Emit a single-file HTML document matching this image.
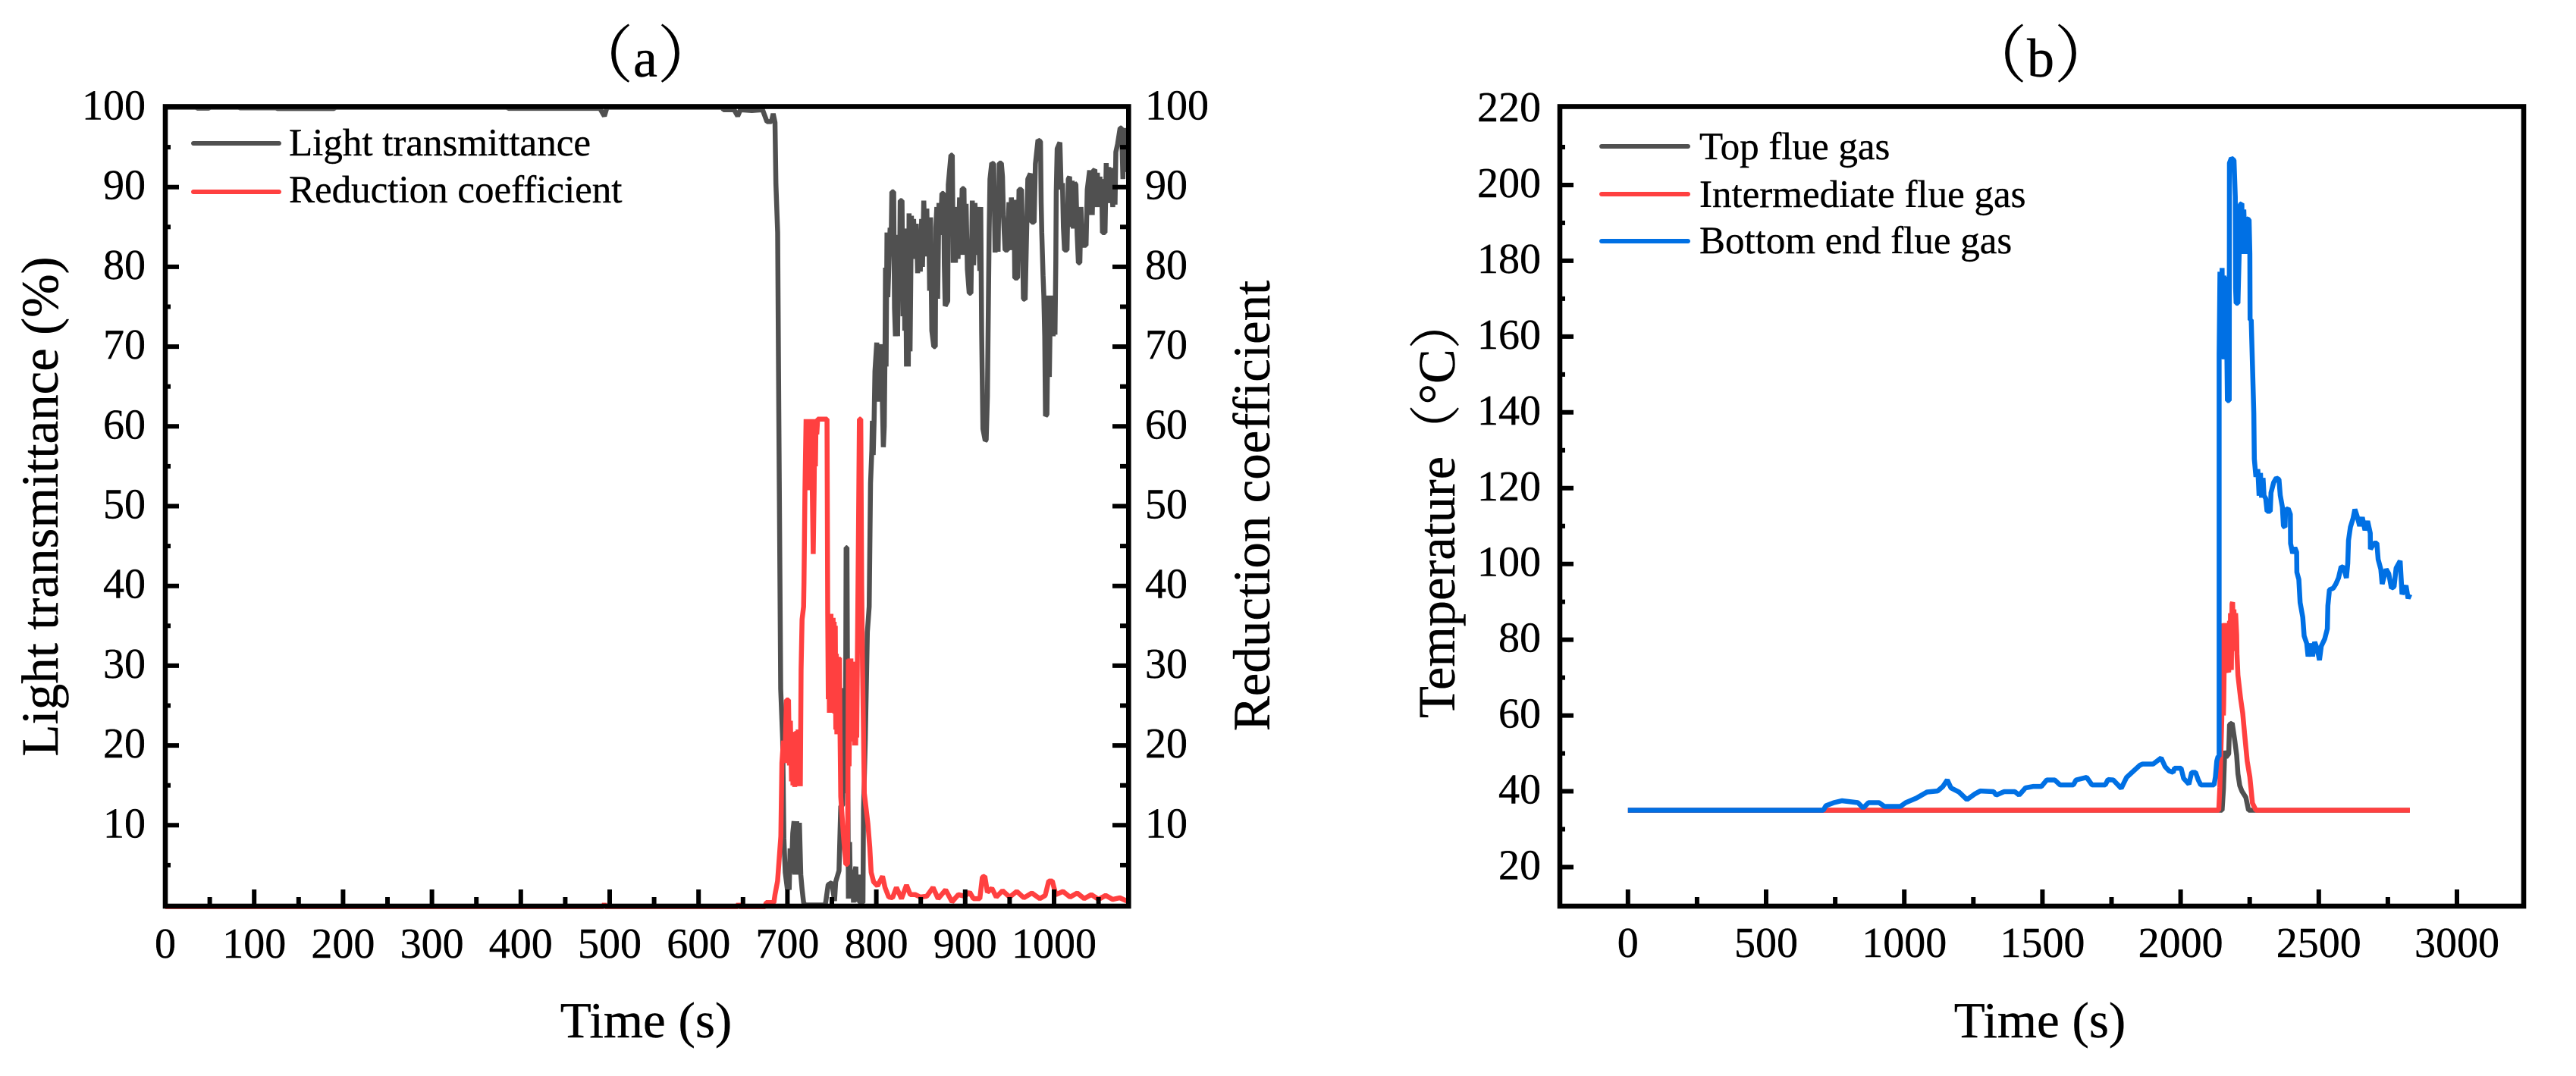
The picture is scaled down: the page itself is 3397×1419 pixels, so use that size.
<!DOCTYPE html>
<html lang="en">
<head>
<meta charset="utf-8">
<title>Light transmittance and flue gas temperature charts</title>
<style>
html,body{margin:0;padding:0;background:#fff;}
svg{display:block;}
text{font-family:"Liberation Serif","Noto Serif CJK SC",serif;fill:#000;font-variant-ligatures:none;stroke:#000;stroke-width:0.4px;}
.tick{font-size:56px;}
.leg{font-size:51px;}
.axt{font-size:68px;}
</style>
</head>
<body>
<svg id="fig" xmlns="http://www.w3.org/2000/svg" width="3397" height="1419" viewBox="0 0 3397 1419">
  <rect x="0" y="0" width="3397" height="1419" fill="#fff"/>
  <g id="panelA"></g>
  <g id="panelB"></g>

  <text x="851" y="101" font-size="82" text-anchor="middle">（<tspan font-size="72">a</tspan>）</text>
  <text x="2691" y="101" font-size="82" text-anchor="middle">（<tspan font-size="72">b</tspan>）</text>

  <text class="axt" text-anchor="middle" transform="translate(76,668) rotate(-90)" style="font-size:69px">Light transmittance (%)</text>
  <text class="axt" text-anchor="middle" transform="translate(1674,667) rotate(-90)" style="font-size:69px">Reduction coefficient</text>
  <text class="axt" x="852" y="1368" text-anchor="middle" style="font-size:67px">Time (s)</text>
  <text class="axt" transform="translate(1918,947) rotate(-90)" style="font-size:68.5px">Temperature（°C）</text>
  <text class="axt" x="2690" y="1368" text-anchor="middle" style="font-size:67px">Time (s)</text>

  <g>
    <line x1="255" y1="189" x2="368" y2="189" stroke="#505050" stroke-width="6" stroke-linecap="round"/>
    <text class="leg" x="381" y="205">Light transmittance</text>
    <line x1="255" y1="253" x2="368" y2="253" stroke="#FF4040" stroke-width="6" stroke-linecap="round"/>
    <text class="leg" x="381" y="267">Reduction coefficient</text>
  </g>
  <g>
    <line x1="2112" y1="193" x2="2226" y2="193" stroke="#505050" stroke-width="6" stroke-linecap="round"/>
    <text class="leg" x="2241" y="210">Top flue gas</text>
    <line x1="2112" y1="256" x2="2226" y2="256" stroke="#FF4040" stroke-width="6" stroke-linecap="round"/>
    <text class="leg" x="2241" y="273">Intermediate flue gas</text>
    <line x1="2112" y1="318" x2="2226" y2="318" stroke="#0070E4" stroke-width="6" stroke-linecap="round"/>
    <text class="leg" x="2241" y="334">Bottom end flue gas</text>
  </g>
</svg>
<script>
// Panel (a) tick values
const aXMajor = [0,100,200,300,400,500,600,700,800,900,1000];
const aXMinor = [50,150,250,350,450,550,650,750,850,950,1050];
const aYMajor = [10,20,30,40,50,60,70,80,90];
const aYMinor = [5,15,25,35,45,55,65,75,85,95];
const aYLabels = [10,20,30,40,50,60,70,80,90,100];

// Panel (b) tick values
const bXMajor = [0,500,1000,1500,2000,2500,3000];
const bXMinor = [250,750,1250,1750,2250,2750];
const bYMajor = [20,40,60,80,100,120,140,160,180,200];
const bYMinor = [30,50,70,90,110,130,150,170,190,210];
const bYLabels = [20,40,60,80,100,120,140,160,180,200,220];

// Panel (a) series: [time s, value]
const lightTransmittance = [[0,100],[35,100],[36,99.9],[49,99.9],[50,100],[83,100],[84,99.93],[125,99.93],[126,99.85],[190,99.85],[191,100],[385,100],[386,99.87],[489,99.87],[494,98.9],[497,100],[627,100],[628,99.7],[640,99.7],[644,98.9],[647,99.7],[660,99.6],[672,99.7],[677,98.2],[682,98.2],[684,99.2],[686,98.1],[687,90.4],[689,84.3],[690.3,61.8],[692.4,27.1],[694.6,20.8],[696,8.4],[697.5,4.1],[700,1.9],[701.5,4.5],[702,1.9],[703,7.1],[704.5,4],[706,9],[707.4,10.5],[708.2,3.8],[709,10.5],[709.8,3.8],[710.5,10.5],[711.2,3.8],[712,10.3],[712.8,3.8],[713.5,10.3],[715,3.8],[716.5,2],[718.2,0.3],[720,0],[742,0],[743,0.3],[745.8,2.55],[750,2.8],[753,0.5],[754.3,2.9],[758,4.3],[760,12.4],[762,12.5],[763.5,27.2],[764.5,17.8],[765.2,14],[766,44.8],[767,44.8],[768.6,0.8],[770,7.9],[771,1],[771.6,4.4],[772.8,1],[773.6,4],[774.3,0.3],[775.5,4],[777,4.8],[778,0.4],[780,3.8],[781.4,0.3],[785,0.3],[785.6,12],[787.6,20.8],[789.9,34.2],[792,37.4],[793.5,52.9],[795,57],[795.6,60.7],[796.5,56.4],[797.5,60.7],[798.5,66.9],[800.5,70.5],[801.5,63.1],[802.7,70.3],[803.5,63.1],[804.2,70],[805.2,63.1],[806,70.3],[806.8,63],[807.9,57.4],[809,60],[809.8,69.4],[810.3,79.9],[811,67.5],[812,84.3],[813,76.2],[815.5,84.9],[816.5,81.5],[817.5,89.4],[819.5,89.4],[820.5,74.8],[821.5,71.3],[823,82.9],[824,71.3],[825,84],[826,76.7],[826.9,88.3],[828.9,88.3],[830,73.8],[831.2,84.8],[832,72],[833,82.6],[834,67.5],[835,80],[836,67.5],[836.9,86.7],[838,69.4],[839.5,86.4],[840.5,81],[842,86],[843.5,81],[845,85.4],[846.5,79.2],[848,84.5],[849.5,79.4],[851,86],[852,80],[853.4,88.3],[855,81.3],[856.8,87.3],[857.8,81.3],[859,86.2],[860,77],[861,86.2],[862.5,72],[864.7,70],[866.4,70],[867,84.9],[868.1,87.5],[869,76],[870.5,88],[872,84],[873.8,89.2],[875.8,89.2],[876.5,80.2],[877.5,75.1],[880.4,75.7],[881,90.3],[884,94],[885.5,94],[886.5,80.5],[888,87.5],[889,80.5],[890.5,87.5],[892,81],[893.7,88.7],[895,81.5],[896.6,89.8],[898.6,89.8],[899.5,81.5],[901,87.9],[902.5,79.7],[904.5,76.7],[906.5,76.7],[908,88.3],[909.5,80.2],[911,88],[913,81.5],[914.5,87.5],[916.5,79.5],[917.5,87.5],[918.5,71.8],[920,59.7],[922.5,58.2],[923.6,58.3],[925,63.7],[927,84.3],[927.9,91],[929.9,93],[932.1,92.9],[933.6,81.8],[935,89.7],[937,81.9],[938.4,93],[940.7,93],[942,91.3],[943,86.5],[944.9,82.1],[947.8,82.1],[949.2,88.1],[950.6,82.1],[952,88.7],[953.5,85],[954.9,88.4],[955.8,78.6],[959,78.6],[960.6,89.7],[963.4,89.7],[964.5,83],[965.5,76],[967.5,75.9],[969.1,84.3],[970.5,91],[973.4,91.7],[974.8,85.6],[977.6,85.6],[979,92.9],[981.9,95.9],[984.7,95.7],[985.5,88],[986.2,84.3],[987.6,78.9],[988.5,76.4],[989.5,71.3],[990.4,61.3],[992,61.5],[993,71],[994,76.4],[994.7,66.2],[996,76.4],[997,71.3],[998,76.4],[999,71.3],[1000,76.4],[1001,71.5],[1002,80.5],[1002.5,89.4],[1003.5,94.8],[1006.6,95.6],[1008,89.7],[1009.5,90.5],[1010.5,85],[1011.8,82.1],[1014.6,82.1],[1016,91],[1017.5,91.3],[1019,85],[1020.5,90.8],[1021.7,84.8],[1023,90.5],[1024.6,90.3],[1026,84],[1027.4,80.5],[1029,80.5],[1030.3,87.5],[1031.7,82.7],[1036,82.7],[1037.4,89.7],[1040,92.1],[1041,86.5],[1042,91.5],[1043,86.5],[1044,92],[1045.9,92.2],[1047,87.5],[1048.7,91.8],[1050,87.5],[1051.6,91.3],[1052.5,88],[1053.5,91],[1054.4,84.3],[1057.3,84.3],[1058.7,93],[1060,88],[1061.5,92.5],[1063,88],[1064.4,92.4],[1066,87.5],[1067.5,92],[1068.6,87.8],[1069.5,94.4],[1071.5,95.4],[1074.3,97.4],[1076,97.4],[1077.5,91],[1078.6,97.4],[1080,92.2],[1081.5,92.2],[1083,95.8]];

const reductionCoefficient = [[0,-0.2],[493,-0.2],[494,0.2],[495,-0.2],[644,-0.2],[645,0.2],[646,-0.2],[675,-0.2],[676,0.3],[684.7,0.3],[686,1.3],[688.9,3],[692.6,8.6],[693.8,17.8],[695.5,20.6],[697,17.8],[698.9,25.7],[701.2,25.7],[702.3,17.5],[703.3,23.1],[704.6,15.5],[705.4,21.3],[706.2,15],[707.4,21.5],[708.2,14.8],[709,21.7],[709.7,14.9],[710.5,21.8],[711.2,14.9],[712,22],[712.8,14.9],[713.4,22],[714.5,14.9],[715.4,29.5],[716.5,35.8],[718.2,37.4],[718.6,40.4],[719.7,52],[721,60.9],[722,52],[722.7,60.9],[723.5,53],[724.3,60.9],[725,53],[725.7,60.9],[726.5,52],[727.2,60.9],[728,52],[729,44],[730,52],[730.7,60.9],[731.5,55],[732.2,60.9],[733,59],[734,60.9],[744.5,60.9],[745.3,36.6],[746,25.8],[746.6,36.5],[747.2,24.1],[747.8,36.5],[748.4,24.1],[749,36.5],[749.6,24.1],[750.2,36],[750.8,24.1],[751.4,36],[752,24.1],[752.6,35.5],[753.2,24],[753.8,35],[754.4,22],[755,31.5],[755.6,21.4],[756.2,31.1],[756.8,21.4],[757.4,31.1],[758,21.4],[758.6,31],[759.2,21.4],[760,13.6],[762.9,8.9],[765.7,5.1],[767.7,5.1],[768.5,30.8],[769.4,17.4],[770.2,30.9],[770.8,20.6],[771.4,30.9],[772,20.6],[772.6,30.5],[773.2,20.5],[773.8,30.5],[774.4,20.5],[775,30],[775.6,20],[776.2,30],[776.8,20],[777.4,30],[778,21],[779,35],[780,48],[781,60.9],[782.5,60.9],[783.5,40],[784.5,30],[785.6,21.7],[786.5,14],[790.5,10.2],[792.7,7.2],[794.2,4.1],[797,2.9],[801.3,2.4],[807,3.6],[809.8,2.2],[814,1],[818.3,0.9],[822.6,2.2],[828.3,0.8],[834,2.5],[838.2,1.3],[843.9,1.3],[849.6,1],[856.7,1.1],[863.8,2.2],[869.5,0.8],[878,1.9],[885.2,0.4],[892.3,1.3],[899.4,1.1],[905,1.6],[909.3,0.8],[916.5,0.8],[919.3,3.5],[922.1,3.6],[925,1.6],[930,2.1],[935,1],[942,1.8],[950,1],[958,1.7],[966,0.9],[975,1.5],[984,0.8],[990,1.2],[994,3],[998,3],[1002,1.3],[1010,1.7],[1018,1],[1026,1.5],[1034,0.8],[1042,1.3],[1050,0.7],[1058,1.2],[1066,0.7],[1074,0.9],[1084,0.4]];

// Panel (b) series: [time s, temperature C]
const topFlueGas = [[0,35],[2150,35],[2155,40.7],[2159.6,50.7],[2164,49],[2174,49.9],[2177,57.6],[2186.6,58],[2196,53.4],[2202.7,49.5],[2207.5,44.6],[2214,41.5],[2222,40],[2236,38.4],[2246,35],[2829,35]];

const intermediateFlueGas = [[0,35],[2138,35],[2142,41],[2149,59],[2152,84.3],[2154.8,60],[2156,63],[2159.6,84.4],[2162,72],[2164,84],[2166,72],[2169,83.6],[2171,72],[2174,71.4],[2177,85],[2179,72],[2180.7,87],[2183.5,72],[2186,89.5],[2188.3,89.9],[2191,77],[2193,88],[2196,77],[2199,87],[2202.7,81.3],[2204,76.3],[2207.5,70.6],[2217,64.5],[2224.7,60.6],[2231.4,55.3],[2241,48],[2250.6,43.8],[2260,36.9],[2272.6,35],[2829.9,35]];

const bottomEndFlueGas = [[0,35],[706.8,35],[716.4,36.2],[745.3,37],[774.2,37.5],[832,37],[851.2,35.6],[870.5,37],[909,37],[928.2,36],[986,36],[1005.3,37],[1043.8,38.2],[1082.3,39.8],[1120.8,40.1],[1140,41.3],[1155.5,43],[1169,40.9],[1197.9,39.8],[1226.7,37.8],[1255.6,39.3],[1274.9,40.1],[1323,39.9],[1332.7,39],[1361.5,39.9],[1400,39.9],[1415.5,39],[1438.6,40.9],[1467.5,41.3],[1496.3,41.3],[1515.6,43],[1544.5,43],[1563.8,41.7],[1611.9,41.7],[1621.5,43],[1660,43.7],[1679.3,41.7],[1727.4,41.7],[1737,43.1],[1756.3,43],[1785.2,40.8],[1804.5,43.7],[1852.6,46.9],[1862.2,47.2],[1900.7,47.2],[1929.6,48.8],[1944,46.5],[1958,45.4],[1973,45],[1977.7,46.1],[2001.6,46.1],[2011,43.4],[2030,41.9],[2040,45],[2054,45],[2064,43],[2073,41.7],[2121,41.7],[2126,43.8],[2131,48],[2135.7,49.2],[2139.5,49.2],[2139.5,155.4],[2142.4,177.1],[2147,154.1],[2150,178.1],[2153,154.1],[2156.7,176.1],[2158,154],[2164.4,175.8],[2169.2,143.1],[2175.9,143.1],[2176.8,205.8],[2183.5,207.1],[2193.1,206.5],[2197.9,196.8],[2199,172.8],[2200.8,168.8],[2207.5,168.8],[2212.3,183.4],[2215.1,194.8],[2221.8,195.1],[2222.5,181.8],[2228.5,193.5],[2234.3,181.8],[2238.1,191.1],[2247.7,190.8],[2250.6,181.8],[2251.5,164.4],[2255.4,164.4],[2260.1,152.1],[2264.9,139.8],[2266.8,127.7],[2272.6,123],[2279.3,125],[2284,118],[2288.9,124],[2293,117.5],[2298.4,122.7],[2302,118],[2308,117.3],[2312.8,113.9],[2324.3,113.9],[2327.2,118.8],[2336.7,121.5],[2346.3,122.7],[2355.9,122.3],[2360.7,118.1],[2368.3,115],[2372.2,110],[2377.9,109.7],[2379.8,114.2],[2389.4,114.6],[2397,113.1],[2397.8,105.4],[2405.7,102.8],[2413.3,104.3],[2420,103.1],[2420.8,97.8],[2427.7,95.9],[2432.5,89.8],[2442,85.9],[2446.9,81],[2456.4,79],[2461.2,75.6],[2470.8,79],[2477.5,75.6],[2485.2,79.4],[2494.7,77.5],[2502.4,74.6],[2509.1,78.3],[2521.5,80.2],[2531.1,82.9],[2533,89],[2538.8,93.2],[2552.2,93.6],[2561.8,94.7],[2571.3,96.3],[2580.9,99.3],[2590.5,99],[2600,96.3],[2604.8,100.1],[2607.7,106.2],[2614.4,109.7],[2624,112],[2630.7,114.4],[2638.4,112.7],[2647.9,110],[2657.5,112.3],[2667.1,108.9],[2676.6,111.3],[2686.2,108.1],[2687,103.9],[2700.6,105.5],[2710.2,105.5],[2715,101.2],[2724.5,98.6],[2729.3,94.7],[2743.7,98.6],[2753.3,97.4],[2762.8,93.6],[2772.4,94],[2780,98.9],[2794.4,100.8],[2801.2,92],[2815.5,94.3],[2823.2,90.9],[2829.9,92]];

const NS = 'http://www.w3.org/2000/svg';

// Axis functions
function ax(t){ return 218 + 1.172 * t; }
function ay(v){ return 1193.5 - 10.52 * v; }
function bx(t){ return 2146.8 + 0.3644 * t; }
function by(v){ return 1143.5 - 4.9975 * (v - 20); }

function pathFrom(points, fx, fy){
  return points.map(function(p, i){
    return (i ? 'L' : 'M') + fx(p[0]).toFixed(1) + ' ' + fy(p[1]).toFixed(1);
  }).join('');
}

function drawSeries(parent, points, fx, fy, color, name){
  const el = document.createElementNS(NS, 'path');
  
  
  el.setAttribute('d', pathFrom(points, fx, fy));
  el.setAttribute('fill', 'none');
  el.setAttribute('stroke', color);
  el.setAttribute('stroke-width', '6.5');
  el.setAttribute('stroke-linejoin', 'bevel');
  parent.appendChild(el);
}

function drawFrame(parent, x1, y1, x2, y2, name){
  const el = document.createElementNS(NS, 'rect');
  
  
  el.setAttribute('x', x1);
  el.setAttribute('y', y1);
  el.setAttribute('width', x2 - x1);
  el.setAttribute('height', y2 - y1);
  el.setAttribute('fill', 'none');
  el.setAttribute('stroke', '#000');
  el.setAttribute('stroke-width', '6.6');
  parent.appendChild(el);
}

function drawTick(parent, x1, y1, x2, y2, name){
  const el = document.createElementNS(NS, 'line');
  
  
  el.setAttribute('x1', x1);
  el.setAttribute('y1', y1);
  el.setAttribute('x2', x2);
  el.setAttribute('y2', y2);
  el.setAttribute('stroke', '#000');
  el.setAttribute('stroke-width', '6');
  parent.appendChild(el);
}

function drawLabel(parent, x, y, anchor, value, name){
  const el = document.createElementNS(NS, 'text');
  
  
  el.setAttribute('class', 'tick');
  el.setAttribute('x', x);
  el.setAttribute('y', y);
  el.setAttribute('text-anchor', anchor);
  el.textContent = value;
  parent.appendChild(el);
}

const groupA = document.getElementById('panelA');
const groupB = document.getElementById('panelB');

// Panel (a) marks
drawSeries(groupA, lightTransmittance, ax, ay, '#505050', 'light-transmittance-line');
drawSeries(groupA, reductionCoefficient, ax, ay, '#FF4040', 'reduction-coefficient-line');

// Panel (a) axes
drawFrame(groupA, 218, 140.5, 1488.3, 1195, 'panel-a-frame');
aXMajor.forEach(function(t){
  drawTick(groupA, ax(t), 1195, ax(t), 1173, 'panel-a-x-major-tick');
  drawLabel(groupA, ax(t), 1263, 'middle', t, 'panel-a-x-tick-label');
});
aXMinor.forEach(function(t){
  drawTick(groupA, ax(t), 1195, ax(t), 1183, 'panel-a-x-minor-tick');
});
aYMajor.forEach(function(v){
  drawTick(groupA, 218, ay(v), 236, ay(v), 'panel-a-left-y-major-tick');
  drawTick(groupA, 1488, ay(v), 1467, ay(v), 'panel-a-right-y-major-tick');
});
aYMinor.forEach(function(v){
  drawTick(groupA, 218, ay(v), 225, ay(v), 'panel-a-left-y-minor-tick');
  drawTick(groupA, 1488, ay(v), 1477, ay(v), 'panel-a-right-y-minor-tick');
});
aYLabels.forEach(function(v){
  drawLabel(groupA, 192, ay(v) + 16, 'end', v, 'panel-a-left-y-tick-label');
  drawLabel(groupA, 1510, ay(v) + 16, 'start', v, 'panel-a-right-y-tick-label');
});

// Panel (b) marks
drawSeries(groupB, topFlueGas, bx, by, '#505050', 'top-flue-gas-line');
drawSeries(groupB, intermediateFlueGas, bx, by, '#FF4040', 'intermediate-flue-gas-line');
drawSeries(groupB, bottomEndFlueGas, bx, by, '#0070E4', 'bottom-end-flue-gas-line');

// Panel (b) axes
drawFrame(groupB, 2057, 140.5, 3328, 1195, 'panel-b-frame');
bXMajor.forEach(function(t){
  drawTick(groupB, bx(t), 1195, bx(t), 1173, 'panel-b-x-major-tick');
  drawLabel(groupB, bx(t), 1262, 'middle', t, 'panel-b-x-tick-label');
});
bXMinor.forEach(function(t){
  drawTick(groupB, bx(t), 1195, bx(t), 1183, 'panel-b-x-minor-tick');
});
bYMajor.forEach(function(v){
  drawTick(groupB, 2057, by(v), 2075, by(v), 'panel-b-y-major-tick');
});
bYMinor.forEach(function(v){
  drawTick(groupB, 2057, by(v), 2064, by(v), 'panel-b-y-minor-tick');
});
bYLabels.forEach(function(v){
  drawLabel(groupB, 2032, by(v) + 16, 'end', v, 'panel-b-y-tick-label');
});
</script>
</body>
</html>
